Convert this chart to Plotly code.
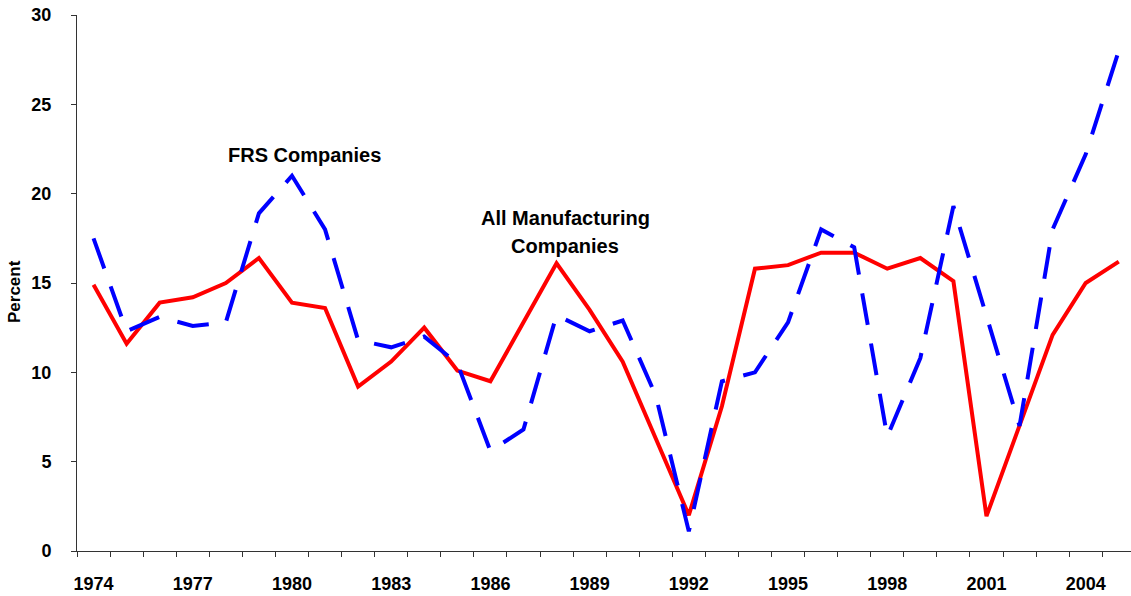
import plotly.graph_objects as go

years = list(range(1974, 2006))
all_manufacturing = [14.9, 11.6, 13.9, 14.2, 15.0, 16.4, 13.9, 13.6, 9.2, 10.6, 12.5, 10.1,
                     9.5, 12.8, 16.1, 13.5, 10.6, 6.3, 2.0, 8.1, 15.8, 16.0, 16.7, 16.7,
                     15.8, 16.4, 15.1, 1.95, 7.0, 12.1, 15.0, 16.2]
frs_companies = [17.5, 12.3, 13.1, 12.6, 12.8, 18.9, 21.0, 18.0, 11.8, 11.4, 12.0, 10.5,
                 5.6, 6.8, 13.2, 12.3, 12.9, 8.7, 1.1, 9.5, 10.0, 12.8, 18.0, 17.0,
                 6.4, 10.8, 19.3, 13.2, 7.0, 18.0, 22.2, 28.0]
label_years = years[::3]

FONT = "Liberation Sans, Arial, sans-serif"

fig = go.Figure()
fig.add_trace(go.Scatter(
    x=years, y=all_manufacturing, mode="lines", name="All Manufacturing Companies",
    line=dict(color="#FF0000", width=4),
))
fig.add_trace(go.Scatter(
    x=years, y=frs_companies, mode="lines", name="FRS Companies",
    line=dict(color="#0000FF", width=4, dash="32px,19px"),
))

fig.update_layout(
    width=1131, height=596,
    margin=dict(l=77, r=0, t=15, b=44.5, autoexpand=False),
    paper_bgcolor="white", plot_bgcolor="white",
    showlegend=False,
    font=dict(family=FONT, color="black"),
)
fig.update_xaxes(
    range=[1973.5, 2005.37], automargin=False,
    tickvals=label_years, ticktext=[str(y) for y in label_years],
    ticks="", ticklabelstandoff=16, ticklabeloverflow="allow",
    tickfont=dict(family=FONT, size=18, color="black", weight="bold"),
    minor=dict(tickvals=[y - 0.5 for y in years], ticks="outside", ticklen=5,
               tickcolor="#333333", tickwidth=1),
    showline=True, linecolor="#333333", linewidth=1,
    showgrid=False, zeroline=False,
)
fig.update_yaxes(
    range=[0, 30], tickvals=[0, 5, 10, 15, 20, 25, 30], automargin=False,
    ticks="outside", ticklen=5, tickcolor="#333333",
    ticklabelstandoff=16, ticklabeloverflow="allow",
    tickfont=dict(family=FONT, size=18, color="black", weight="bold"),
    showline=True, linecolor="#333333", linewidth=1,
    showgrid=False, zeroline=False,
)

label_font = dict(family=FONT, size=20, color="black", weight="bold")
fig.add_annotation(x=1980.38, y=22.16, text="FRS Companies", showarrow=False, font=label_font)
fig.add_annotation(x=1988.27, y=18.64, text="All Manufacturing", showarrow=False, font=label_font)
fig.add_annotation(x=1988.27, y=17.08, text="Companies", showarrow=False, font=label_font)
fig.add_annotation(xref="paper", yref="paper", x=-0.0598, y=0.485, text="Percent",
                   xanchor="center", yanchor="middle",
                   textangle=-90, showarrow=False,
                   font=dict(family=FONT, size=17, color="black", weight="bold"))

# drop the default 8px body margin so the figure fills the window
fig.write_html("out.html", config={"displayModeBar": False},
               post_script="document.body.style.margin = '0';")
